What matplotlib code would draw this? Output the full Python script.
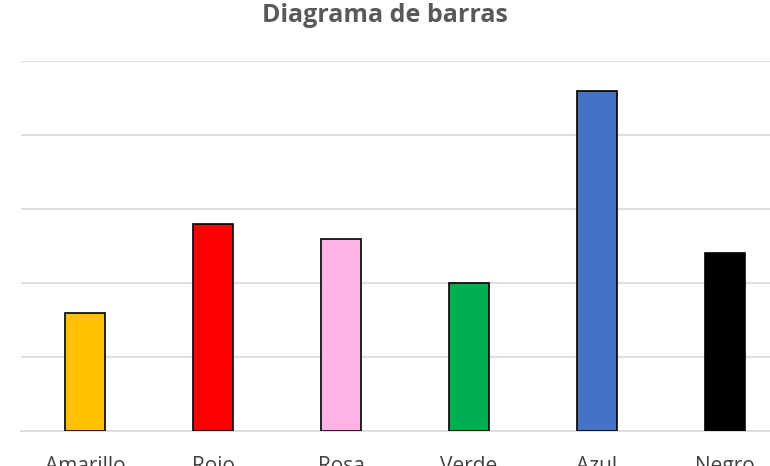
import matplotlib.pyplot as plt

categorias = ["Amarillo", "Rojo", "Rosa", "Verde", "Azul", "Negro"]
valores = [8, 14, 13, 10, 23, 12]
colores = ["#FFC000", "#FF0000", "#FFB3E6", "#00B050", "#4472C4", "#000000"]

fig = plt.figure(figsize=(7.7, 4.66), dpi=100)
# the reference's axes run a little past the right edge of the picture
ax = fig.add_axes([21/770, 1 - 431/466, 768/770, 370/466])

xpos = range(len(categorias))
ax.bar(xpos, valores, 0.31, color=colores, edgecolor='black', linewidth=1.2,
       zorder=3)

ax.set_xlim(-0.5, len(categorias) - 0.5)
ax.set_ylim(0, 25)
ax.set_yticks([0, 5, 10, 15, 20, 25])
ax.set_yticklabels([])
ax.grid(axis='y', color='#D9D9D9', linewidth=1.2, zorder=0)
for loc in ['top', 'right', 'left']:
    ax.spines[loc].set_visible(False)
ax.spines['bottom'].set_color('#D9D9D9')
ax.spines['bottom'].set_linewidth(1.2)
ax.tick_params(axis='both', length=0)
ax.set_xticks(list(xpos))
ax.set_xticklabels(categorias, fontsize=15, color='#404040', family='Open Sans')
ax.tick_params(axis='x', pad=18)

fig.text(385/770, 1 - 16/466, "Diagrama de barras", ha='center', va='center',
         fontsize=18, fontweight='bold', color='#595959', family='Open Sans')

fig.savefig('out.png', dpi=100)
